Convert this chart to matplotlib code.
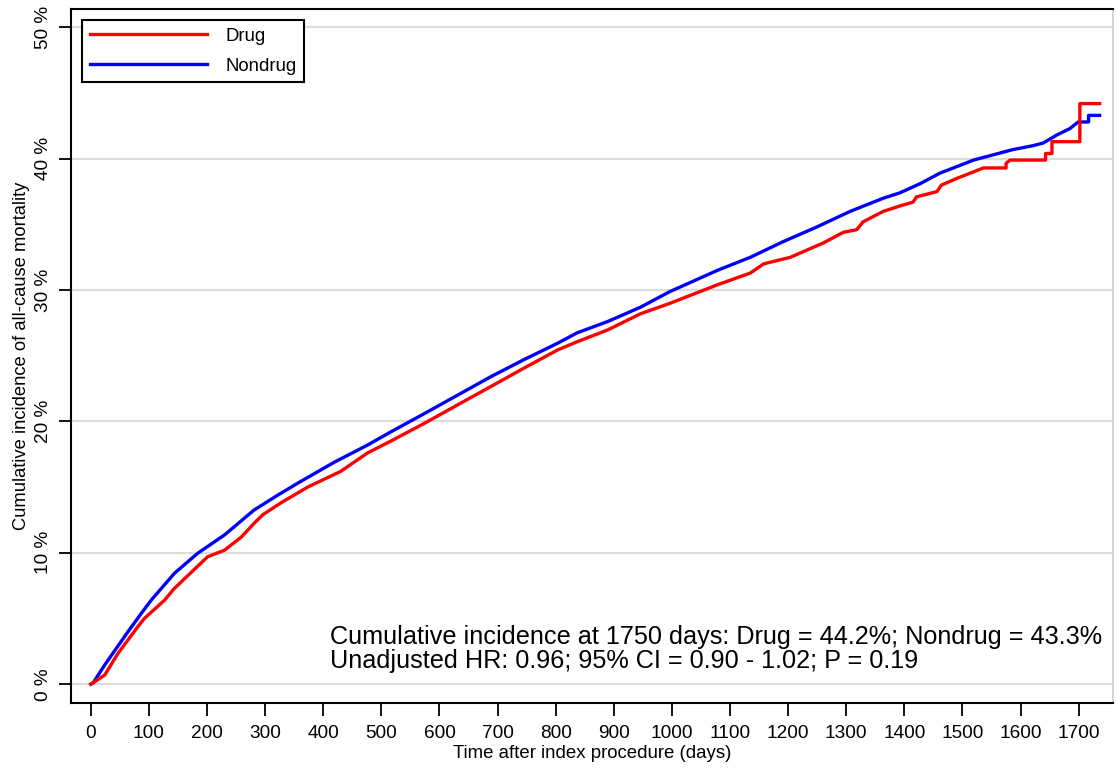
import matplotlib
matplotlib.use('Agg')
import matplotlib.pyplot as plt

plt.rcParams['font.family'] = ['Liberation Sans', 'DejaVu Sans']

# Cumulative incidence (days, percent)
drug_days = [0, 24, 47, 81, 92, 127, 144, 201, 230, 259, 281, 296, 327, 373, 430, 476,
             516, 574, 631, 688, 745, 803, 837, 889, 946, 997, 1020, 1049, 1078, 1135,
             1158, 1204, 1261, 1295, 1318, 1329, 1364, 1392, 1415, 1421, 1456, 1464,
             1490, 1519, 1536, 1575, 1575, 1582, 1643, 1643, 1654, 1654, 1702, 1702, 1736]
drug_pct = [0, 0.7, 2.36, 4.38, 5.0, 6.4, 7.3, 9.7, 10.2, 11.2, 12.25, 12.9, 13.8, 15.0,
            16.2, 17.6, 18.5, 19.86, 21.26, 22.65, 24.05, 25.44, 26.07, 26.96, 28.2, 29.0,
            29.4, 29.9, 30.4, 31.3, 32.0, 32.5, 33.6, 34.4, 34.6, 35.2, 36.0, 36.4, 36.7,
            37.1, 37.5, 38.0, 38.5, 39.0, 39.3, 39.3, 39.65, 39.9, 39.9, 40.4, 40.4, 41.3,
            41.3, 44.2, 44.2]

nondrug_days = [0, 4, 24, 64, 87, 104, 144, 184, 230, 281, 322, 356, 419, 476, 516, 574,
                631, 688, 745, 803, 837, 889, 946, 997, 1020, 1078, 1135, 1192, 1249, 1307,
                1364, 1392, 1427, 1461, 1496, 1519, 1553, 1587, 1622, 1639, 1662, 1685,
                1699, 1717, 1717, 1736]
nondrug_pct = [0, 0.1, 1.47, 4.0, 5.4, 6.4, 8.45, 9.97, 11.36, 13.26, 14.4, 15.3, 16.9,
               18.2, 19.2, 20.6, 22.0, 23.4, 24.7, 25.95, 26.75, 27.6, 28.7, 29.9, 30.35,
               31.5, 32.5, 33.7, 34.8, 36.0, 37.0, 37.4, 38.1, 38.9, 39.5, 39.9, 40.3, 40.7,
               41.0, 41.2, 41.8, 42.3, 42.8, 42.8, 43.3, 43.3]

x_ticks = list(range(0, 1701, 100))
y_ticks = [0, 10, 20, 30, 40, 50]
y_labels = ['0 %', '10 %', '20 %', '30 %', '40 %', '50 %']

fig = plt.figure(figsize=(11.17, 7.69), dpi=100)
ax = fig.add_axes([0.0636, 0.0855, 0.9328, 0.9028])

for y in y_ticks:
    ax.axhline(y, color='#dcdcdc', linewidth=1.6, zorder=0)

ax.plot(drug_days, drug_pct, color='#ff0000', linewidth=2.4, label='Drug', zorder=3)
ax.plot(nondrug_days, nondrug_pct, color='#0000ff', linewidth=2.4, label='Nondrug', zorder=2)

ax.set_xlim(-34, 1759)
ax.set_ylim(-1.45, 51.4)
ax.set_xticks(x_ticks)
ax.set_yticks(y_ticks)
ax.set_yticklabels(y_labels, rotation=90, va='center')
ax.tick_params(axis='both', length=9, width=1.3, labelsize=13.7, color='black')
ax.tick_params(axis='x', pad=7)
ax.tick_params(axis='y', pad=5)

for side in ['left', 'bottom', 'top']:
    ax.spines[side].set_linewidth(1.5)
    ax.spines[side].set_color('black')
ax.spines['right'].set_color('#cccccc')
ax.spines['right'].set_linewidth(1.2)

ax.set_xlabel('Time after index procedure (days)', fontsize=13.4, labelpad=2)
ax.set_ylabel('Cumulative incidence of all-cause mortality', fontsize=13.2, labelpad=3)

leg = ax.legend(loc='upper left', bbox_to_anchor=(0.0106, 0.984), borderaxespad=0,
                fontsize=13.4, handlelength=6.3, handletextpad=1.0, labelspacing=0.72,
                fancybox=False, framealpha=1, edgecolor='black', borderpad=0.4)
leg.get_frame().set_linewidth(1.5)

ax.text(0.2486, 0.0955, 'Cumulative incidence at 1750 days: Drug = 44.2%; Nondrug = 43.3%',
        transform=ax.transAxes, fontsize=18.2, va='center', ha='left')
ax.text(0.2486, 0.061, 'Unadjusted HR: 0.96; 95% CI = 0.90 - 1.02; P = 0.19',
        transform=ax.transAxes, fontsize=18.2, va='center', ha='left')

fig.savefig('out.png', dpi=100)
